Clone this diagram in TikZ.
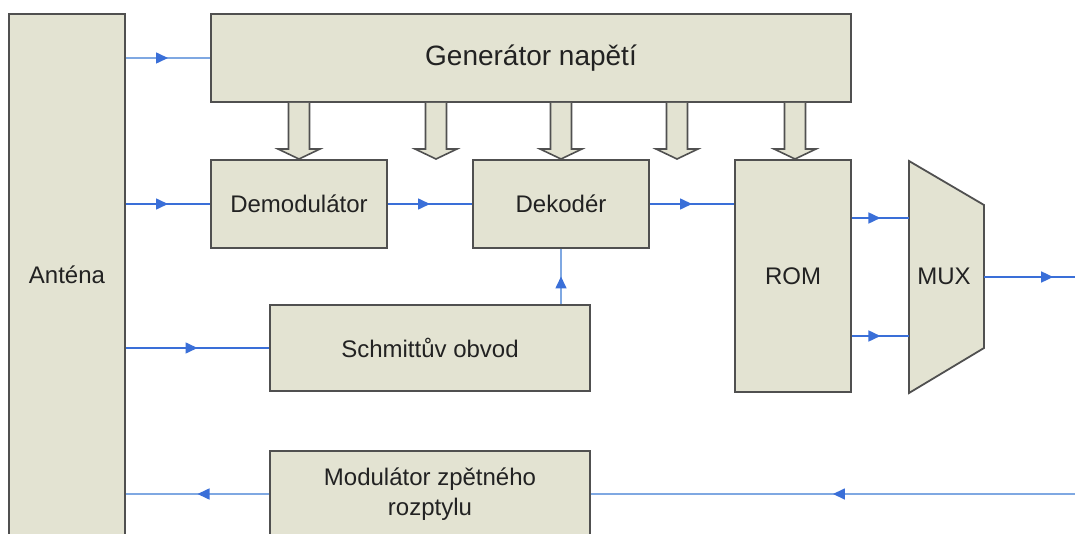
\documentclass[tikz,border=0pt]{standalone}
\usepackage{fontspec}
\setmainfont{Liberation Sans}
\usetikzlibrary{arrows.meta,decorations.markings}
\definecolor{boxfill}{HTML}{E3E3D2}
\definecolor{boxline}{HTML}{505050}
\definecolor{sigdark}{HTML}{3A6FD8}
\definecolor{siglight}{HTML}{7FA8E2}
\definecolor{txt}{HTML}{222222}
\tikzset{
  blk/.style={draw=boxline, fill=boxfill, line width=1.8pt, inner sep=0pt, align=center,
    text=txt, font=\fontsize{24}{30}\selectfont},
  sigline/.style={draw=#1, line width=1.6pt, postaction={decorate}},
  markat/.style={decoration={markings, mark=at position #1 with {\arrow[sigdark]{Triangle[length=12pt,width=11pt]}}}},
  fatarrow/.style={draw=boxline, fill=boxfill, line width=1.6pt, line join=miter},
}
\begin{document}
\begin{tikzpicture}[x=1pt,y=-1pt]
\path[use as bounding box] (0,0) rectangle (1075,534);
\clip (0,0) rectangle (1075,534);
% blocks
\node[blk, minimum width=116, minimum height=522] (ant) at (67,275) {Anténa};
\node[blk, minimum width=640, minimum height=88, font=\fontsize{28}{32}\selectfont] (gen) at (531,58) {Generátor napětí};
\node[blk, minimum width=176, minimum height=88] (demod) at (299,204) {Demodulátor};
\node[blk, minimum width=176, minimum height=88] (dek) at (561,204) {Dekodér};
\node[blk, minimum width=116, minimum height=232] (rom) at (793,276) {ROM};
\node[blk, minimum width=320, minimum height=86] (schmitt) at (430,348) {Schmittův obvod};
\node[blk, minimum width=320, minimum height=86] (mod) at (430,494) {Modulátor zpětného\\rozptylu};
% MUX
\draw[blk] (909,161) -- (984,205) -- (984,348) -- (909,393) -- cycle;
\node[text=txt, font=\fontsize{24}{30}\selectfont] (mux) at (944,276) {MUX};
\coordinate (mux1) at (909,218);
\coordinate (mux2) at (909,336);
\coordinate (muxo) at (984,277);
\coordinate (outp) at (1075,277);
\coordinate (inp) at (1075,494);
% supply arrows
\foreach \x in {299,436,561,677,795}
  \draw[fatarrow] (\x-10.5,103) -- (\x-10.5,149) -- (\x-21,149) -- (\x,159) -- (\x+21,149) -- (\x+10.5,149) -- (\x+10.5,103);
% signal lines
\draw[sigline=siglight, markat=0.5] (ant.east |- gen.west) -- (gen.west);
\draw[sigline=sigdark, markat=0.5] (ant.east |- demod.west) -- (demod.west);
\draw[sigline=sigdark, markat=0.5] (demod.east) -- (dek.west);
\draw[sigline=sigdark, markat=0.5] (dek.east) -- (rom.west |- dek.east);
\draw[sigline=sigdark, markat=0.5] (ant.east |- schmitt.west) -- (schmitt.west);
\draw[sigline=siglight, markat=0.5] (dek.south |- schmitt.north) -- (dek.south);
\draw[sigline=sigdark, markat=0.5] (rom.east |- mux1) -- (mux1);
\draw[sigline=sigdark, markat=0.5] (rom.east |- mux2) -- (mux2);
\draw[sigline=sigdark, markat=0.76] (muxo) -- (outp);
\draw[sigline=siglight, markat=0.5] (inp) -- (mod.east);
\draw[sigline=siglight, markat=0.5] (mod.west) -- (ant.east |- mod.west);
\end{tikzpicture}
\end{document}
